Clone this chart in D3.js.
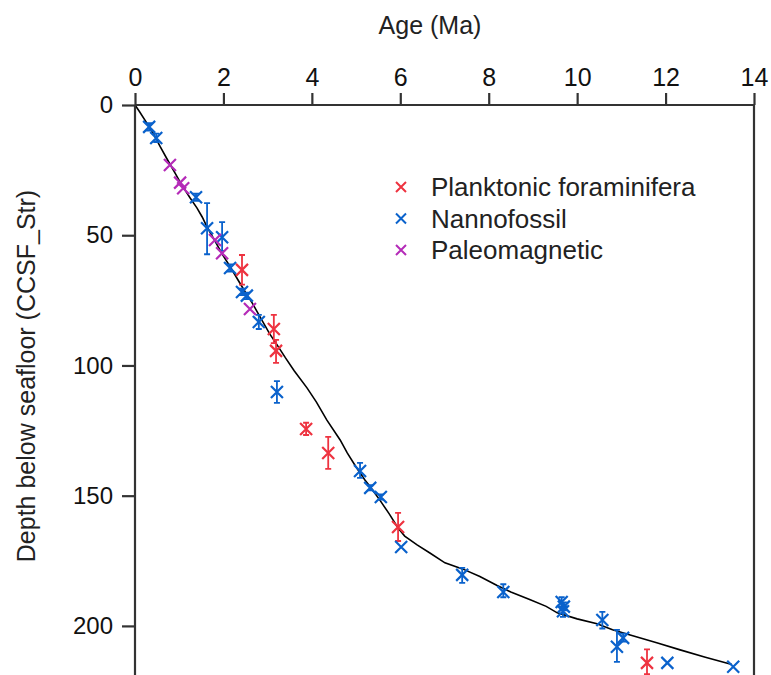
<!DOCTYPE html>
<html><head><meta charset="utf-8">
<script src="https://cdn.jsdelivr.net/npm/d3@7"></script>
<style>body{margin:0;background:#fff}svg{display:block}text{font-family:"Liberation Sans",Arial,sans-serif}</style>
</head><body>
<svg id="c" width="771" height="675"></svg>
<script>
const xTicks = [0,2,4,6,8,10,12,14];
const yTicks = [0,50,100,150,200];
const seriesNames = ["Planktonic foraminifera","Nannofossil","Paleomagnetic"];
const seriesColors = ["#ee3340","#0a62cc","#b52bb8"];
// [age, depth, depthLo, depthHi]
const foram = [
  [2.42,63.3,57.6,69],[3.14,86,80.6,91.4],[3.19,94.4,90.2,99],[3.87,124.4,122,126.7],
  [4.37,133.6,127.4,139.7],[5.95,162,156.6,167.4],[11.58,214.2,209,218.5]
];
const nanno = [
  [0.32,8.4,7,9.8],[0.48,12.7,11,14.2],[1.38,35.4,34,36.8],[1.63,47.3,37.7,57.3],[1.97,50.8,45,56],
  [2.15,62.6,61.2,64],[2.42,71.8,70.5,73],[2.53,73.2,72,74.5],[2.8,83.3,80.6,86],[3.21,110.2,106,114.4],
  [5.09,140.5,137.4,143.2],[5.32,147,146,148],[5.56,150.5,149.5,151.5],[6.02,169.7,169.7,169.7],
  [7.4,180.4,177.7,183.5],[8.33,187,184,189],[9.65,190.8,189,192.5],[9.7,192.6,191,194],[9.68,194.4,193,196.5],
  [10.57,197.7,194.6,201],[10.9,208,201.5,213.8],[11.04,204.6,203,206],[12.04,214.2,214.2,214.2],[13.53,215.7,215.7,215.7]
];
const paleo = [
  [0.79,23],[1.02,29.8],[1.09,32],[1.81,51.8],[1.97,56.9],[2.6,78.3]
];
const ageDepth = [
  [0,0],[0.1,2.5],[0.25,6.5],[0.4,10.5],[0.57,16],[0.75,21.5],[0.9,26],[1.05,30.5],[1.24,35.5],[1.4,39.5],
  [1.52,43],[1.62,46.5],[1.8,52],[2.0,58],[2.15,62],[2.33,67.2],[2.5,72],[2.65,76],[2.85,82],[3.05,88],
  [3.21,92],[3.4,97],[3.6,102],[3.89,108.6],[4.1,114],[4.34,121],[4.64,128.6],[4.8,133.6],[5.0,139],
  [5.2,144],[5.32,146.6],[5.55,152],[5.75,157],[5.95,162.4],[6.1,165.5],[6.38,168.9],[6.67,172],
  [7.01,175.8],[7.42,178.2],[7.8,181],[8.19,184.5],[8.5,187],[8.94,190],[9.3,192.5],[9.55,195],
  [10.0,197.3],[10.45,199.2],[10.8,201.5],[11.2,203.5],[11.8,206.5],[12.33,209.2],[12.9,212],[13.5,214.8]
];

const svg = d3.select("#c");
const L=135, R=754, T=105;
const x = d3.scaleLinear().domain([0,14]).range([L,R]);
const y = d3.scaleLinear().domain([0,220]).range([T,T+573]);
const axisCol = "#333";

// curve
svg.append("path").datum(ageDepth)
  .attr("d", d3.line().x(d=>x(d[0])).y(d=>y(d[1])))
  .attr("fill","none").attr("stroke","#000").attr("stroke-width",1.6);

function cross(g, cx, cy, s, col, w){
  g.append("path").attr("d",`M${cx-s},${cy-s}L${cx+s},${cy+s}M${cx-s},${cy+s}L${cx+s},${cy-s}`)
   .attr("stroke",col).attr("stroke-width",w).attr("fill","none");
}
function drawSeries(data, col){
  const g = svg.append("g");
  data.forEach(d=>{
    if(d.length>2 && d[3]>d[2]){
      const cx=x(d[0]), y1=y(d[2]), y2=y(d[3]);
      g.append("path").attr("d",`M${cx},${y1}L${cx},${y2}M${cx-3},${y1}L${cx+3},${y1}M${cx-3},${y2}L${cx+3},${y2}`)
       .attr("stroke",col).attr("stroke-width",1.8).attr("fill","none");
    }
    cross(g, x(d[0]), y(d[1]), 6, col, 2.2);
  });
}
drawSeries(foram, seriesColors[0]);
drawSeries(nanno, seriesColors[1]);
drawSeries(paleo, seriesColors[2]);

// axes
const xa = svg.append("g").attr("transform",`translate(0,${T})`)
  .call(d3.axisTop(x).tickValues(xTicks).tickSize(12).tickPadding(7).tickFormat(d3.format("d")));
const ya = svg.append("g").attr("transform",`translate(${L},0)`)
  .call(d3.axisLeft(y).tickValues(yTicks).tickSize(13).tickPadding(9).tickFormat(d3.format("d")));
[xa,ya].forEach(a=>{
  a.attr("font-size",null).attr("font-family",null);
  a.selectAll(".tick line").attr("stroke",axisCol).attr("stroke-width",2.2);
  a.selectAll(".tick text").attr("fill","#111");
});
xa.selectAll(".tick text").style("font-size","25px");
ya.selectAll(".tick text").style("font-size","24px");
xa.select(".domain").attr("stroke",axisCol).attr("stroke-width",2.2).attr("d",`M${L},0H${R}`);
ya.select(".domain").attr("stroke",axisCol).attr("stroke-width",2.2).attr("d",`M0,${T}V${y(220)}`);
svg.append("line").attr("x1",R).attr("x2",R).attr("y1",T).attr("y2",y(220))
  .attr("stroke",axisCol).attr("stroke-width",2.2);

svg.append("text").attr("x",430).attr("y",34).attr("text-anchor","middle")
  .attr("fill","#222").style("font-size","25px").text("Age (Ma)");
svg.append("text").attr("transform",`translate(35,376) rotate(-90)`).attr("text-anchor","middle")
  .attr("fill","#222").style("font-size","25px").text("Depth below seafloor (CCSF_Str)");

// legend
const lg = svg.append("g");
seriesNames.forEach((n,i)=>{
  const ly = 187 + i*31.5;
  cross(lg, 401, ly, 5, seriesColors[i], 2);
  lg.append("text").attr("x",431).attr("y",ly+9).attr("fill","#222").style("font-size","26px").text(n);
});
</script>
</body></html>
